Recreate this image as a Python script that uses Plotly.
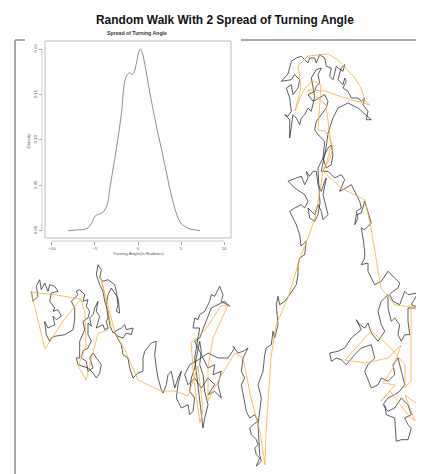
import plotly.graph_objects as go

# ---------------- data (pixel-space units) ----------------
walk_pts = [
    (23.3,283.3),(25,293.3),(30,288.3),(28.3,278.3),(31.7,271.7),(33.3,281.7),(36.7,275),(40,283.3),(41.7,276.7),
    (46.7,278.3),(50,283.3),(43.3,285),(41.7,293.3),(46.7,300),(45,303.3),(50,301.7),(53.3,308.3),(48.3,311.7),
    (45,308.3),(46.7,316.7),(40,320),(36.7,313.3),(38.3,326.7),(41.7,333.3),(43.3,330),(46.7,328.3),(56.7,326.7),
    (65,321.7),(66.7,311.7),(66.7,300),(63.3,293.3),(70,286.7),(68.3,283.3),(71.7,281.7),(76.7,286.7),(75,293.3),
    (80,291.7),(78.3,298.3),(81.7,303.3),(80,310),(75,313.3),
    (76.7,321.7),(71.7,333.3),(71.7,350),(68.3,350),(70,356.7),(80,360),(85,365),(88.3,370),(91.7,365),(93.3,356.7),
    (88.3,350),(85,345),(81.7,350),(85,360),(80,363.3),(78.3,353.3),(73.3,350),(75,343),(80,340),(83.3,333),(80,326.7),
    (80,315),(83.3,318.3),(81.7,310),(85,306.7),(86.7,300),(90,293.3),(88.3,303.3),(91.7,308.3),(90,313.3),(88.3,320),
    (95,316.7),(96.7,321.7),(100,320),(98.3,313.3),(100,310),(98.3,296.7),(100,286.7),(103.3,280),(110,290),(111.7,305),
    (108.3,303.3),(110,296.7),(108.3,283.3),(106.7,276.7),(100,271.7),(95,273.3),(91.7,270),(93.3,261.7),(90,256.7),
    (88.3,266.7),(91.7,276.7),(95,283.3),(96.7,293.3),(100,303.3),(101.7,316.7),(105,325),(110,321.7),(113.3,320),
    (116.7,316.7),(118.3,321.7),(125,320),(123.3,326.7),(118.3,325),(115,330),(110,328.3),(106.7,325),
    (113.3,336.7),(115,346.7),(120,350),(121.7,360),(125,370),(130,365),(135,363.3),(135,350),(136.7,343.3),(143.3,335),
    (148.3,333.3),(146.7,346.7),(148.3,360),(150,370),(153.3,381.7),(155,385),(158.3,376.7),(160,366.7),(163.3,363.3),
    (165,373.3),(166.7,380),(170,370),(173.3,363.3),
    (170,376.7),(168.3,390),(173.3,400),(180,396.7),(181.7,406.7),(185,403.3),(186.7,390),(181.7,383.3),(183.3,370),
    (186.7,360),(188.3,350),(190,340),(191.7,333.3),(193.3,343.3),(191.7,356.7),(195,366.7),(196.7,383.3),(200,396.7),
    (196.7,410),(195,420),(193.3,406.7),(191.7,393.3),(190,376.7),(188.3,363.3),(186.7,350),(190,330),(191.7,320),
    (185,320),(186.7,310),(190,311.7),(191.7,306.7),(196.7,303.3),(201.7,293.3),(203.3,286.7),(206.7,288.3),
    (211.7,278.3),(215,286.7),(213.3,293.3),(221.7,298.3),(216.7,293.3),(210,296.7),(203.3,300),(196.7,316.7),
    (191.7,330),(186.7,333.3),(200,360),(206.7,356.7),(205,366.7),(213.3,363.3),(210,376.7),(213.3,390),(206.7,383.3),
    (200,386.7),(206.7,376.7),(200,370),(193.3,380),(186.7,370),(180,376.7),(176.7,366.7),(181.7,356.7),(190,352),
    (200,345),(210,350),(220,350),
    (226.7,340),(225,338.3),(230,345),(235,343.3),(240,340),(235,350),(233.3,363.3),(236.7,370),(233.3,376.7),
    (235,386.7),(236.7,393.3),(238.3,403.3),(241.7,410),(246.7,406.7),(250,413.3),(245,416.7),(241.7,420),
    (243.3,426.7),(248.3,431.7),(250,436.7),(246.7,440),(248.3,446.7),(251.7,450),(248.3,458),(253.3,453.3),
    (251.7,446.7),(250,416.7),(253.3,390),(250,376.7),(255,363.3),(256.7,346.7),(258.3,340),(263.3,336.7),(265,323.3),
    (266.7,330),(268.3,323.3),(270,316.7),(268.3,296.7),(270,288.3),(271.7,296.7),(276.7,293.3),(281.7,286.7),
    (286.7,280),(288.3,276.7),(290,266.7),(290,256.7),(291.7,250),(296.7,246.7),(298.3,233.3),(293,238),(291.7,226.7),
    (288.3,216.7),(283.3,206.7),(281.7,203.3),(286.7,200),(293.3,196.7),(296.7,200),(300,193.3),(296.7,186.7),
    (286.7,180),(281.7,175),(280,173.3),(288.3,170),(293.3,168.3),(296.7,176.7),(300,170),(298.3,163.3),(301.7,168.3),
    (305,163.3),(308.3,163.3),(310,176.7),(313.3,183.3),(316.7,173.3),(318.3,170),(315,186.7),(316.7,193.3),
    (320,206.7),(315,211.7),(313.3,203.3),(310,196.7),(306.7,206.7),(303.3,203.3),(300,200),(301.7,210),
    (306.7,213.3),(310,206.7),(312,195),(311,180),(310,160),
    (316.7,146.7),(320,140),(323.3,136.7),(325,146.7),(323.3,156.7),(318.3,160),(315,150),(316.7,133.3),(310,126.7),
    (306.7,121.7),(308.3,113.3),(313.3,106.7),(318.3,100),(320,93.3),(316.7,86.7),
    (305,93.3),(300,86.7),(306.7,83.3),(308.3,78.3),(311.7,75),(310,66.7),(313.3,60),(308.3,61.7),(303.3,70),(305,80),
    (306.7,88.3),(303.3,103.3),(300,100),(296.7,106.7),(293.3,110),(291.7,116.7),(288.3,110),(285,106.7),(283.3,120),
    (281.7,130),(281.7,111.7),(276.7,106.7),(280,108.3),(283.3,103.3),(281.7,90),(278.3,80),(283.3,76.7),(285,86.7),
    (290,80),(291.7,71.7),(286.7,66.7),(283.3,71.7),(273.3,73.3),(280,66),(283.3,53.3),(288.3,50),(293.3,48.3),
    (300,55),(301.7,50),(306.7,50),(308.3,55),(311.7,46.7),(316.7,50),(318.3,58.3),(323.3,60),(321.7,68.3),(325,71.7),
    (328.3,58.3),(330,60),(335,63.3),(336.7,56.7),(333.3,60),(331.7,65),(330,71.7),(335,76.7),(336.7,70),(338.3,73.3),
    (335,80),(340,83.3),(343.3,90),(350,90),(353.3,93.3),(356.7,90),(355,96.7),(360,103.3),(358.3,111.7),(363.3,111.7),
    (350,100),(340,95),(330,100),(325,110),(320,125),(318,140),(315,155),(313.3,163.3),
    (320,163.3),(326.7,170),(333.3,166.7),(336.7,171.7),(331.7,183.3),(335,181.7),(343.3,176.7),(348.3,186.7),
    (351.7,193.3),(353.3,200),(348.3,203.3),(350,210),(346.7,216.7),(348.3,206.7),(353.3,205),(356.7,193.3),
    (360,203.3),(363.3,215),(356.7,221.7),(353.3,220),(355,230),(356.7,243.3),(356.7,250),(353.3,256.7),(360,255),
    (360,263.3),
    (366.7,276.7),(373.3,273.3),(380,263.3),(386.7,270),(391.7,275),(390,280),(385,283.3),(381.7,286.7),(385,293.3),
    (391.7,296.7),(396.7,283.3),(400,286.7),(410,285),(403.3,296.7),(411.7,300),(400,300),(400,313.3),(401.7,326.7),
    (396.7,326.7),(393.3,333.3),(390,326.7),(391.7,316.7),(386.7,310),(383.3,313.3),(380,300),(380,286.7),
    (373.3,293.3),(370,303.3),(373.3,316.7),(376.7,323.3),(370,333.3),(363.3,325),(360,315),(356.7,320),(351.7,316.7),
    (348.3,311.7),(353.3,321.7),(343.3,330),(336.7,340),(330,343.3),(321.7,345),(323.3,353.3),(328.3,350),
    (333.3,351.7),(338.3,356.7),(346.7,346.7),(353.3,340),(363.3,336.7),(366.7,350),(360,356.7),(356.7,363.3),
    (363.3,380),(370,376.7),(373.3,370),(380,373.3),(386.7,366.7),(385,356.7),(390,350),(393.3,363.3),(396.7,376.7),
    (391.7,383.3),(386.7,386.7),(380,390),(375,396.7),(380,403.3),(386.7,400),(393.3,390),(400,396.7),(403.3,406.7),
    (396.7,410),(400,416.7),(403.3,420),(400,431.7),(393.3,431.7),(388.3,433.3),(386.7,410),(378.3,406.7),(376.7,396.7),
]
walk_x = [p[0] for p in walk_pts]
walk_y = [p[1] for p in walk_pts]

smooth_pts = [
    (73,291),(48,287),(23,284),(30,312),(37,341),(55,313),(73,291),(77,305),(78,338),(70,358),(78,372),(90,325),
    (98,323),(103,318),(93,270),(107,325),(117,342),(130,372),(153,383),(167,383),(180,388),(190,358),(195,402),
    (192,415),(186,372),(183,335),(197,322),(213,298),(220,297),(205,330),(200,360),(200,393),(210,373),(227,345),
    (235,350),(243,390),(252,423),(257,457),(258,423),(263,350),(268,317),(280,290),(292,250),(300,230),(307,210),
    (312,183),(315,163),(322,150),(325,140),(322,130),(317,123),(310,122),(312,93),(313,77),(305,73),(297,80),
    (292,90),(287,103),(293,80),(290,58),(300,48),(320,46),(330,52),(347,70),(353,80),(357,93),(362,97),(337,90),
    (317,83),(300,82),(318,97),(323,137),(320,150),(315,163),(333,180),(357,192),(363,220),(368,250),(373,280),
    (387,297),(413,300),(403,300),(403,340),(403,373),(397,380),(397,357),(380,337),(363,323),(337,352),(357,355),
    (380,350),(393,337),(385,360),(375,375),(387,377),(373,393),(382,383),(400,407),(407,413),(397,387),(410,397),
]
smooth_x = [p[0] for p in smooth_pts]
smooth_y = [p[1] for p in smooth_pts]

angle_x = [-8.1,-7.0,-6.2,-5.6,-5.3,-5.0,-4.6,-4.1,-3.8,-3.5,-3.3,-2.9,-2.5,-2.2,-1.9,-1.55,-1.25,-0.95,-0.7,-0.45,
           -0.15,0.1,0.3,0.5,0.8,1.15,1.5,1.9,2.3,2.7,3.1,3.5,3.9,4.3,4.65,5.0,5.4,6.0,6.6,7.2]
density = [0.0,0.001,0.0015,0.005,0.010,0.016,0.018,0.020,0.024,0.031,0.045,0.068,0.091,0.110,0.131,0.164,0.172,
           0.174,0.172,0.175,0.186,0.197,0.200,0.196,0.183,0.164,0.146,0.126,0.108,0.091,0.073,0.055,0.038,0.024,
           0.014,0.008,0.005,0.002,0.001,0.0]

x_ticks = [-10, -5, 0, 5, 10]
y_ticks = [0.0, 0.05, 0.10, 0.15, 0.20]
y_tick_labels = ["0.00", "0.05", "0.10", "0.15", "0.20"]

main_title = "Random Walk With 2 Spread of Turning Angle"
inset_title = "Spread of Turning Angle"
inset_xlabel = "Turning Angle(in Radians)"
inset_ylabel = "Density"

# ---------------- figure ----------------
W, H = 424, 474
FONT = "Liberation Sans, Arial, sans-serif"

fig = go.Figure()
fig.add_trace(go.Scatter(x=walk_x, y=walk_y, mode="lines",
                         line=dict(color="rgba(30,30,30,0.8)", width=0.9), hoverinfo="skip"))
fig.add_trace(go.Scatter(x=smooth_x, y=smooth_y, mode="lines",
                         line=dict(color="rgba(245,175,60,0.8)", width=1.0), hoverinfo="skip"))
fig.add_trace(go.Scatter(x=angle_x, y=density, mode="lines", xaxis="x2", yaxis="y2",
                         line=dict(color="#808080", width=0.9, shape="spline"), hoverinfo="skip"))

frame_c = "#8c8c8c"
shapes = [
    dict(type="line", xref="x", yref="y", x0=7, x1=7, y0=32, y1=474, line=dict(color=frame_c, width=1.5)),
    dict(type="line", xref="x", yref="y", x0=7, x1=17, y0=32, y1=32, line=dict(color=frame_c, width=1.5)),
    dict(type="line", xref="x", yref="y", x0=233, x1=424, y0=32, y1=32, line=dict(color=frame_c, width=1.5)),
    dict(type="rect", xref="x2 domain", yref="y2 domain", x0=0, x1=1, y0=0, y1=1,
         line=dict(color="#a8a8a8", width=0.8)),
    dict(type="line", xref="x2", yref="paper", x0=-10, x1=10, y0=(H - 233) / H, y1=(H - 233) / H,
         line=dict(color="#a8a8a8", width=0.6)),
    dict(type="line", xref="paper", yref="y2", x0=34 / W, x1=34 / W, y0=0, y1=0.2,
         line=dict(color="#a8a8a8", width=0.6)),
]

annotations = [
    dict(text=main_title, x=217, y=12, xref="x", yref="y", showarrow=False, xanchor="center", yanchor="middle",
         font=dict(family=FONT, size=11.9, color="#111", weight="bold")),
    dict(text=inset_title, x=128.7, y=25, xref="x", yref="y", showarrow=False, xanchor="center", yanchor="middle",
         font=dict(family=FONT, size=5.2, color="#333", weight="bold")),
    dict(text=inset_xlabel, x=130, y=245, xref="x", yref="y", showarrow=False, xanchor="center", yanchor="middle",
         font=dict(family=FONT, size=4.4, color="#555")),
    dict(text=inset_ylabel, x=19.5, y=133, xref="x", yref="y", showarrow=False, xanchor="center", yanchor="middle",
         textangle=-90, font=dict(family=FONT, size=4.4, color="#555")),
]

fig.update_layout(
    width=W, height=H, margin=dict(l=0, r=0, t=0, b=0),
    paper_bgcolor="white", plot_bgcolor="white", showlegend=False,
    xaxis=dict(domain=[0, 1], range=[0, W], visible=False, fixedrange=True),
    yaxis=dict(domain=[0, 1], range=[H, 0], visible=False, fixedrange=True),
    xaxis2=dict(domain=[37 / W, 223 / W], range=[-10.8, 10.8], anchor="free", position=(H - 233) / H,
                tickvals=x_ticks, ticks="outside", ticklen=3, tickwidth=0.6, tickcolor="#a8a8a8",
                tickfont=dict(family=FONT, size=4.3, color="#555"), showline=False, showgrid=False,
                zeroline=False, fixedrange=True),
    yaxis2=dict(domain=[(H - 230) / H, (H - 33) / H], range=[-0.008, 0.209], anchor="free", position=34 / W,
                tickvals=y_ticks, ticktext=y_tick_labels, tickangle=-90, ticks="outside", ticklen=3,
                tickwidth=0.6, tickcolor="#a8a8a8", tickfont=dict(family=FONT, size=4.3, color="#555"),
                showline=False, showgrid=False, zeroline=False, fixedrange=True),
    shapes=shapes, annotations=annotations,
)

fig.write_html("out.html")
